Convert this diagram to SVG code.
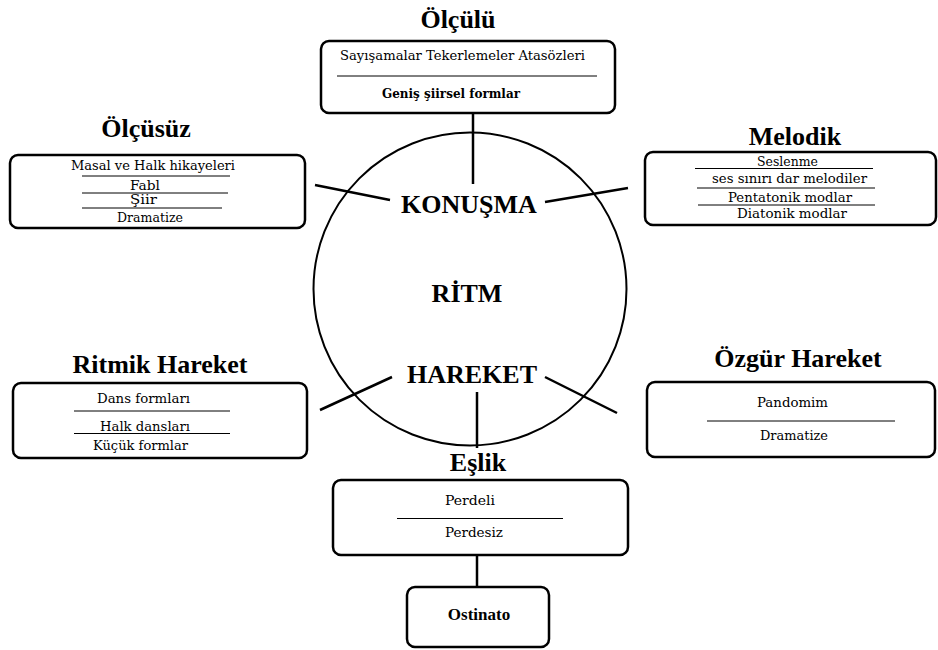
<svg xmlns="http://www.w3.org/2000/svg" width="938" height="650" viewBox="0 0 938 650">
<style>
.box{fill:#fff;stroke:#000;stroke-width:2.5}
.sep{stroke:#000;stroke-width:1}
.con{stroke:#000;stroke-width:2.5;fill:none}
.title{font-family:'Liberation Serif',serif;font-weight:bold;font-size:26px;text-anchor:middle;fill:#000}
.item{font-family:'DejaVu Serif',serif;font-size:13px;text-anchor:middle;fill:#000}
.semi{font-weight:bold}
.ost{font-family:'Liberation Serif',serif;font-weight:bold;font-size:17px;text-anchor:middle;fill:#000}
</style>
<rect width="938" height="650" fill="#fff"/>
<g id="connectors">
<line class="con" x1="473" y1="113" x2="473" y2="184"/>
<line class="con" x1="315" y1="185" x2="390" y2="200"/>
<line class="con" x1="545" y1="202" x2="628" y2="188"/>
<line class="con" x1="392" y1="377" x2="320" y2="410"/>
<line class="con" x1="545" y1="377" x2="617" y2="413"/>
<line class="con" x1="477" y1="392" x2="477" y2="448"/>
<line class="con" x1="477" y1="555" x2="477" y2="587"/>
</g>
<g id="ritm">
<circle cx="470" cy="289" r="156.5" fill="none" stroke="#000" stroke-width="2"/>
<text class="title" x="469" y="213">KONUŞMA</text>
<text class="title" x="467" y="302">RİTM</text>
<text class="title" x="472" y="383">HAREKET</text>
</g>
<g id="olculu">
<text class="title" x="458" y="28">Ölçülü</text>
<rect class="box" x="321" y="41" width="294" height="72" rx="8"/>
<text class="item" x="462.5" y="60" textLength="245" lengthAdjust="spacingAndGlyphs">Sayışamalar Tekerlemeler Atasözleri</text>
<line class="sep" x1="337" y1="76" x2="597" y2="76"/>
<text class="item semi" x="451" y="98" textLength="138" lengthAdjust="spacingAndGlyphs">Geniş şiirsel formlar</text>
</g>
<g id="olcusuz">
<text class="title" x="146" y="137">Ölçüsüz</text>
<rect class="box" x="10" y="155" width="295" height="73" rx="8"/>
<text class="item" x="153" y="170" textLength="164" lengthAdjust="spacingAndGlyphs">Masal ve Halk hikayeleri</text>
<line class="sep" x1="82" y1="176" x2="230" y2="176"/>
<text class="item" x="145" y="190" textLength="30" lengthAdjust="spacingAndGlyphs">Fabl</text>
<line class="sep" x1="82" y1="193" x2="228" y2="193"/>
<text class="item" x="143.5" y="204" textLength="27" lengthAdjust="spacingAndGlyphs">Şiir</text>
<line class="sep" x1="82" y1="208" x2="222" y2="208"/>
<text class="item" x="150" y="222" textLength="66" lengthAdjust="spacingAndGlyphs">Dramatize</text>
</g>
<g id="melodik">
<text class="title" x="795" y="145">Melodik</text>
<rect class="box" x="645" y="152" width="291" height="73" rx="8"/>
<text class="item" x="787.5" y="166" textLength="61" lengthAdjust="spacingAndGlyphs">Seslenme</text>
<line class="sep" x1="695" y1="168.5" x2="873" y2="168.5"/>
<text class="item" x="789.5" y="183" textLength="155" lengthAdjust="spacingAndGlyphs">ses sınırı dar melodiler</text>
<line class="sep" x1="697" y1="188" x2="875" y2="188"/>
<text class="item" x="790" y="201.5" textLength="124" lengthAdjust="spacingAndGlyphs">Pentatonik modlar</text>
<line class="sep" x1="698" y1="205" x2="875" y2="205"/>
<text class="item" x="792" y="218" textLength="110" lengthAdjust="spacingAndGlyphs">Diatonik modlar</text>
</g>
<g id="ritmik-hareket">
<text class="title" x="160" y="373">Ritmik Hareket</text>
<rect class="box" x="13" y="383" width="294" height="75" rx="8"/>
<text class="item" x="143.5" y="403" textLength="93" lengthAdjust="spacingAndGlyphs">Dans formları</text>
<line class="sep" x1="74" y1="411" x2="230" y2="411"/>
<text class="item" x="145" y="431" textLength="90" lengthAdjust="spacingAndGlyphs">Halk dansları</text>
<line class="sep" x1="74" y1="433.5" x2="230" y2="433.5"/>
<text class="item" x="140.5" y="450" textLength="95" lengthAdjust="spacingAndGlyphs">Küçük formlar</text>
</g>
<g id="ozgur-hareket">
<text class="title" x="798" y="367">Özgür Hareket</text>
<rect class="box" x="647" y="382" width="288" height="75" rx="8"/>
<text class="item" x="792.5" y="407" textLength="71" lengthAdjust="spacingAndGlyphs">Pandomim</text>
<line class="sep" x1="707" y1="421" x2="895" y2="421"/>
<text class="item" x="794" y="440" textLength="68" lengthAdjust="spacingAndGlyphs">Dramatize</text>
</g>
<g id="eslik">
<text class="title" x="478" y="471">Eşlik</text>
<rect class="box" x="333" y="480" width="295" height="75" rx="8"/>
<text class="item" x="470" y="505" textLength="50" lengthAdjust="spacingAndGlyphs">Perdeli</text>
<line class="sep" x1="397" y1="518.5" x2="563" y2="518.5"/>
<text class="item" x="474" y="537" textLength="58" lengthAdjust="spacingAndGlyphs">Perdesiz</text>
</g>
<g id="ostinato">
<rect class="box" x="407" y="587" width="142" height="60" rx="8"/>
<text class="ost" x="479" y="620">Ostinato</text>
</g>
</svg>
